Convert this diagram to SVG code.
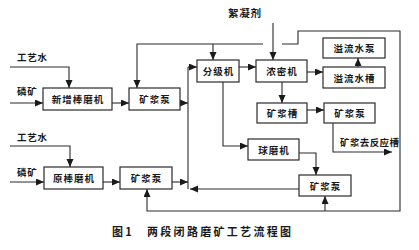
<svg xmlns="http://www.w3.org/2000/svg" width="419" height="250" viewBox="0 0 419 250">
<defs>
<marker id="ah" markerUnits="userSpaceOnUse" markerWidth="9" markerHeight="8" refX="8" refY="3.5" orient="auto">
<path d="M0,0 L8,3.5 L0,7 z" fill="#1a1a1a"/>
</marker>
<style>
.box{fill:#fff;stroke:#2a2a2a;stroke-width:1.2}
.ln{fill:none;stroke:#2a2a2a;stroke-width:1.1}
.ar{marker-end:url(#ah)}
text{font-family:"Noto Sans CJK SC","Noto Sans CJK JP",sans-serif;font-weight:bold;fill:#1a1a1a}
.t{font-size:9.5px;letter-spacing:1px;text-anchor:middle}
.l{font-size:9.5px;letter-spacing:0.8px}
.cap{font-size:11px;letter-spacing:2.3px}
</style>
</defs>
<rect width="419" height="250" fill="#fff"/>
<g id="connectors">
<path class="ln ar" d="M10,67 H69 V88"/>
<path class="ln ar" d="M10,103 H43"/>
<path class="ln ar" d="M112,103 H129"/>
<path class="ln ar" d="M180,103 H188"/>
<path class="ln" d="M188,67 V189"/>
<path class="ln ar" d="M188,67 H197"/>
<path class="ln ar" d="M263,44 H137 V88"/>
<path class="ln ar" d="M213,44 V60"/>
<path class="ln ar" d="M273,23 V60"/>
<path class="ln ar" d="M282,44 H298 V31 H400 V211 H147 V189"/>
<path class="ln ar" d="M325,211 V196"/>
<path class="ln ar" d="M239,67 H256"/>
<path class="ln ar" d="M307,72 H323"/>
<path class="ln ar" d="M358,67 V58"/>
<path class="ln ar" d="M282,82 V103"/>
<path class="ln ar" d="M307,110 H324"/>
<path class="ln ar" d="M333,123 V152 H392"/>
<path class="ln ar" d="M223,82 V146 H248"/>
<path class="ln ar" d="M299,153 H316 V175"/>
<path class="ln ar" d="M299,189 H190"/>
<path class="ln ar" d="M10,146 H70 V167"/>
<path class="ln ar" d="M10,182 H44"/>
<path class="ln ar" d="M103,182 H120"/>
<path class="ln ar" d="M172,182 H188"/>
</g>
<g id="labels">
<text class="l" x="17" y="61">工艺水</text>
<text class="l" x="17" y="95">磷矿</text>
<text class="l" x="17" y="141">工艺水</text>
<text class="l" x="17" y="176">磷矿</text>
<text class="l" x="228" y="17" style="font-size:10.5px">絮凝剂</text>
<text class="l" x="340" y="146" style="letter-spacing:0.4px">矿浆去反应槽</text>
</g>
<g id="n-xinzeng"><rect class="box" x="43" y="88" width="69" height="22"/><text class="t" x="78" y="103">新增棒磨机</text></g>
<g id="n-pumpA"><rect class="box" x="129" y="88" width="51" height="22"/><text class="t" x="155" y="103">矿浆泵</text></g>
<g id="n-fenji"><rect class="box" x="197" y="60" width="42" height="22"/><text class="t" x="218.5" y="75">分级机</text></g>
<g id="n-nongmi"><rect class="box" x="256" y="60" width="51" height="22"/><text class="t" x="282" y="75">浓密机</text></g>
<g id="n-yiliubeng"><rect class="box" x="323" y="38" width="62" height="20"/><text class="t" x="354.5" y="52">溢流水泵</text></g>
<g id="n-yiliucao"><rect class="box" x="323" y="67" width="62" height="21"/><text class="t" x="354.5" y="81.5">溢流水槽</text></g>
<g id="n-kuangjiangcao"><rect class="box" x="257" y="103" width="50" height="20"/><text class="t" x="282.5" y="117">矿浆槽</text></g>
<g id="n-pumpC"><rect class="box" x="324" y="103" width="51" height="20"/><text class="t" x="350" y="117">矿浆泵</text></g>
<g id="n-qiumo"><rect class="box" x="248" y="139" width="51" height="21"/><text class="t" x="274" y="153.5">球磨机</text></g>
<g id="n-pumpD"><rect class="box" x="299" y="175" width="52" height="21"/><text class="t" x="325.5" y="189.5">矿浆泵</text></g>
<g id="n-yuanbang"><rect class="box" x="44" y="167" width="59" height="22"/><text class="t" x="74" y="182">原棒磨机</text></g>
<g id="n-pumpB"><rect class="box" x="120" y="167" width="52" height="22"/><text class="t" x="146.5" y="182">矿浆泵</text></g>
<g id="caption">
<text class="cap" x="112" y="236">图1</text>
<text class="cap" x="147" y="236">两段闭路磨矿工艺流程图</text>
</g>
</svg>
